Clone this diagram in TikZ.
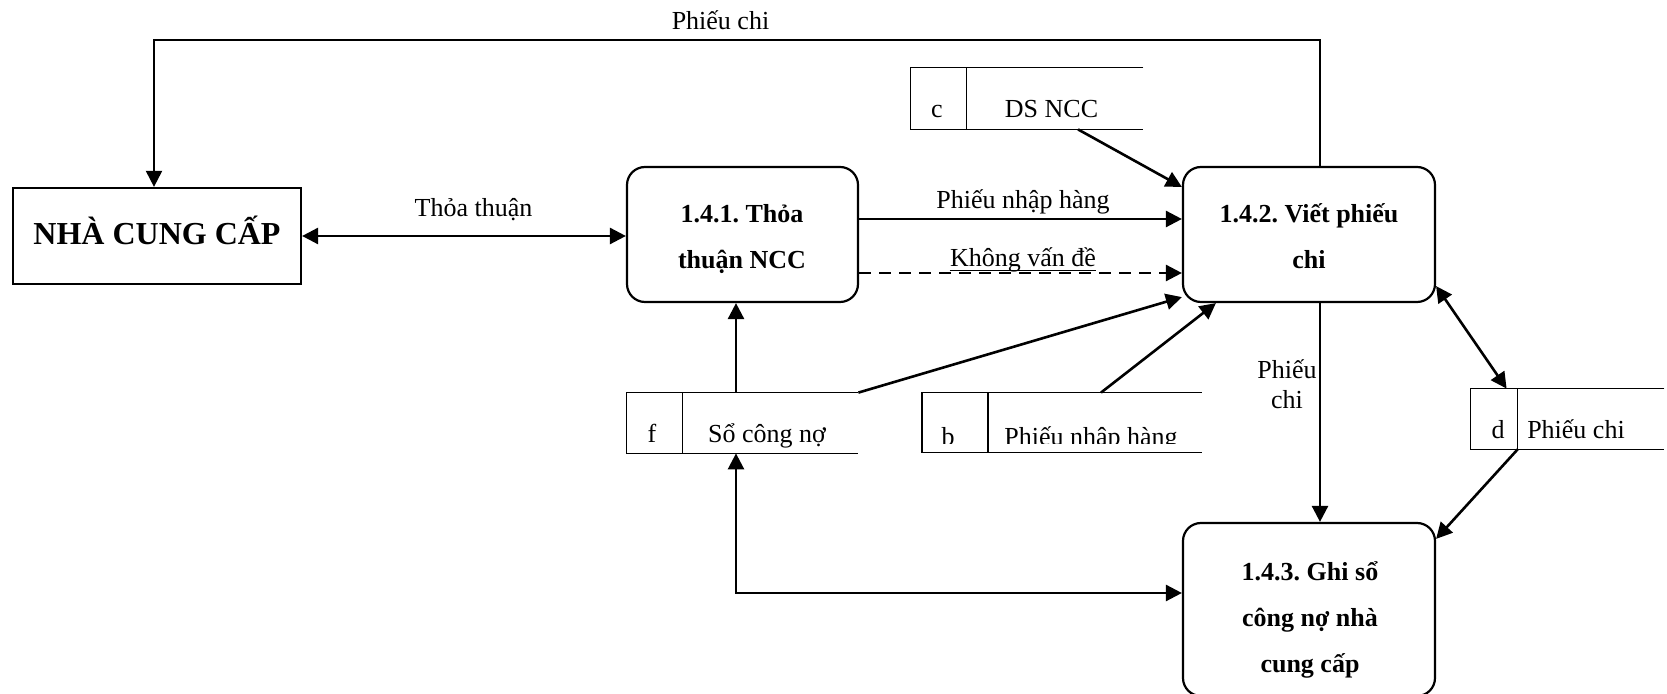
\documentclass[tikz,border=0pt]{standalone}
\usepackage{fontspec}
\setmainfont{Liberation Serif}
\usetikzlibrary{arrows.meta,calc}
\frenchspacing
\begin{document}
\begin{tikzpicture}[x=0.5pt,y=-0.5pt,
  ext/.style={draw, line width=1.1pt, inner sep=0pt},
  proc/.style={draw, line width=1.1pt, rounded corners=9pt, inner sep=0pt},
  store/.style={inner sep=0pt},
  storeline/.style={line width=0.85pt},
  ptext/.style={font=\bfseries\fontsize{13}{23}\selectfont, align=center, anchor=base, inner sep=0pt},
  lbl/.style={font=\fontsize{13}{15}\selectfont, align=center, anchor=base, inner sep=0pt},
  tip/.tip={Triangle[length=8pt,width=8pt]},
  flow/.style={line width=1.3pt, -tip},
  bflow/.style={line width=1.3pt, tip-tip},
  dflow/.style={line width=1.3pt, -tip, dash pattern=on 6pt off 4pt}
]
\useasboundingbox (0,0) rectangle (1667,694);

% external entity
\node[ext, minimum width=144pt, minimum height=48pt] (ncc) at (157,236) {};
\node[ptext, font=\bfseries\fontsize{16}{20}\selectfont] (ncct) at (157,245) {NHÀ CUNG CẤP};

% processes (multi-line labels are placed by the baseline of their last line)
\node[proc, minimum width=115.5pt, minimum height=67.5pt] (p1) at (742.5,234.5) {};
\node[proc, minimum width=126pt, minimum height=67.5pt] (p2) at (1309,234.5) {};
\node[proc, minimum width=126pt, minimum height=86.5pt] (p3) at (1309,609.5) {};
\node[ptext] (p1t) at (742,269) {1.4.1. Thỏa\\thuận NCC};
\node[ptext] (p2t) at (1309,269) {1.4.2. Viết phiếu\\chi};
\node[ptext] (p3t) at (1310,673) {1.4.3. Ghi sổ\\công nợ nhà\\cung cấp};

% data stores
\node[store, minimum width=116pt, minimum height=30.5pt] (c) at (1027,98.5) {};
\node[store, minimum width=115.5pt, minimum height=30pt] (f) at (742.5,423) {};
\node[store, minimum width=139.5pt, minimum height=29.5pt] (b) at (1062,422.5) {};
\node[store, minimum width=96.5pt, minimum height=30pt] (d) at (1567.5,419) {};

\foreach \s/\w in {c/28pt, f/28pt, b/33pt, d/23.5pt}{
  \draw[storeline] (\s.north east) -- (\s.north west) -- (\s.south west) -- (\s.south east);
  \draw[storeline] ([xshift=\w]\s.north west) -- ([xshift=\w]\s.south west);
}
\node[lbl] (ct) at (937,118) {c};
\node[lbl] (cn) at (1051.5,118) {DS NCC};
\node[lbl] (ft) at (652,443) {f};
\node[lbl] (fn) at (767,443) {Sổ công nợ};
\begin{scope}
  \clip (924,400) rectangle (1200,443.5);
  \node[lbl] (bt) at (948,446) {b};
  \node[lbl] (bn) at (1091,446) {Phiếu nhập hàng};
\end{scope}
\node[lbl] (dt) at (1498,439) {d};
\node[lbl] (dn) at (1576,439) {Phiếu chi};

% flows
\coordinate (topy) at (0,40.5);
\coordinate (p2top) at ([xshift=5.5pt]p2.north);
\coordinate (ncctop) at ([xshift=-1.5pt]ncc.north);
\draw[flow, line width=1pt] (p2top) -- (p2top |- topy) -| (ncctop);
\node[lbl] (l1) at (720.5,30) {Phiếu chi};

\draw[bflow] (ncc.east) -- (ncc.east -| p1.west);
\node[lbl] (l2) at (473.5,217) {Thỏa thuận};

\draw[flow] ([yshift=7.75pt]p1.east) -- ([yshift=7.75pt]p2.west);
\node[lbl] (l3) at (1023,209) {Phiếu nhập hàng};

\draw[dflow] ([yshift=-19.25pt]p1.east) -- ([yshift=-19.25pt]p2.west);
\node[lbl] (l4) at (1023,267) {Không vấn đề};
\draw[line width=0.6pt] ([yshift=-1.8pt]l4.base west) -- ([yshift=-1.8pt]l4.base east);

\draw[flow] ([xshift=25.5pt]c.south) -- ([yshift=23.75pt]p2.west);
\draw[flow] ([xshift=-3.25pt]f.north) -- ([xshift=-3.25pt]p1.south);
\draw[flow] (f.north east) -- ([yshift=3pt]p2.south west);
\draw[flow] ([xshift=19.5pt]b.north) -- ([xshift=17pt]p2.south west);

\draw[flow] ([xshift=5.5pt]p2.south) -- ([xshift=5.5pt]p3.north);
\node[lbl] (l5) at (1287,409) {Phiếu\\chi};

\draw[bflow] ([yshift=8.5pt]p2.south east) -- ([xshift=18pt]d.north west);
\draw[flow] ([xshift=23.5pt]d.south west) -- ([yshift=-8.5pt]p3.north east);
\draw[bflow] ([xshift=-3.25pt]f.south) |- ([yshift=8.25pt]p3.west);
\end{tikzpicture}
\end{document}
